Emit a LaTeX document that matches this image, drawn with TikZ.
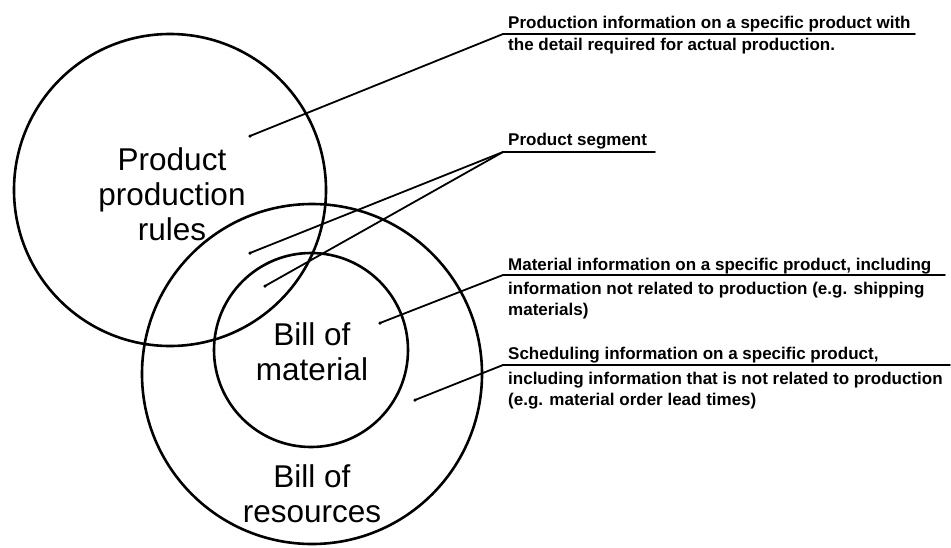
\documentclass[tikz,border=0pt]{standalone}
\usepackage{fontspec}
\setmainfont{Liberation Sans}
\begin{document}
\begin{tikzpicture}[x=1pt,y=-1pt,
  ring/.style={draw=black, line width=2.6pt, circle, inner sep=0pt},
  bigtext/.style={font=\fontsize{31.5}{35}\selectfont, align=center, anchor=base, inner sep=0pt},
  smalltext/.style={font=\bfseries\fontsize{17}{21}\selectfont, align=left, anchor=base west, inner sep=0pt},
  leader/.style={draw=black, line width=1.8pt, line cap=round, line join=round},
  dotend/.style={fill=black, circle, inner sep=0pt, minimum size=3.5pt}
]
\useasboundingbox (0,0) rectangle (951,547);

% circles
\node[ring, minimum size=312pt] (ppr) at (170,190) {};
\node[ring, minimum size=340pt] (bor) at (312,374) {};
\node[ring, minimum size=194pt] (bom) at (311,350) {};

% circle labels (anchor base = baseline of the last line)
\node[bigtext] (pprtext) at (172,240) {Product\\production\\rules};
\node[bigtext] (bomtext) at (312,380) {Bill of\\material};
\node[bigtext] (bortext) at (312,522) {Bill of\\resources};

% annotation texts
\node[smalltext] (t1a) at (508,28) {Production information on a specific product with};
\node[smalltext] (t1b) at (508,50) {the detail required for actual production.};
\node[smalltext] (t2a) at (508,145) {Product segment};
\node[smalltext] (t3a) at (508,270) {Material information on a specific product, including};
\node[smalltext] (t3b) at (508,315) {information not related to production (e.g. shipping\\materials)};
\node[smalltext] (t4a) at (508,359) {Scheduling information on a specific product,};
\node[smalltext] (t4b) at (508,405) {including information that is not related to production\\(e.g. material order lead times)};

% leader points
\coordinate (p1) at (250,136);
\coordinate (k1) at (503,34);
\coordinate (e1) at (915,34);
\coordinate (p2a) at (250,253);
\coordinate (p2b) at (265,286);
\coordinate (k2) at (503,152);
\coordinate (e2) at (655,152);
\coordinate (p3) at (380,323);
\coordinate (k3) at (503,275);
\coordinate (e3) at (945,275);
\coordinate (p4) at (415,400);
\coordinate (k4) at (503,365);
\coordinate (e4) at (950,365);

% leaders
\draw[leader] (p1) -- (k1) -- (e1);
\draw[leader] (p2a) -- (k2) -- (e2);
\draw[leader] (p2b) -- (k2);
\draw[leader] (p3) -- (k3) -- (e3);
\draw[leader] (p4) -- (k4) -- (e4);
\foreach \p in {p1,p2a,p2b,p3,p4} \node[dotend] at (\p) {};
\end{tikzpicture}
\end{document}
